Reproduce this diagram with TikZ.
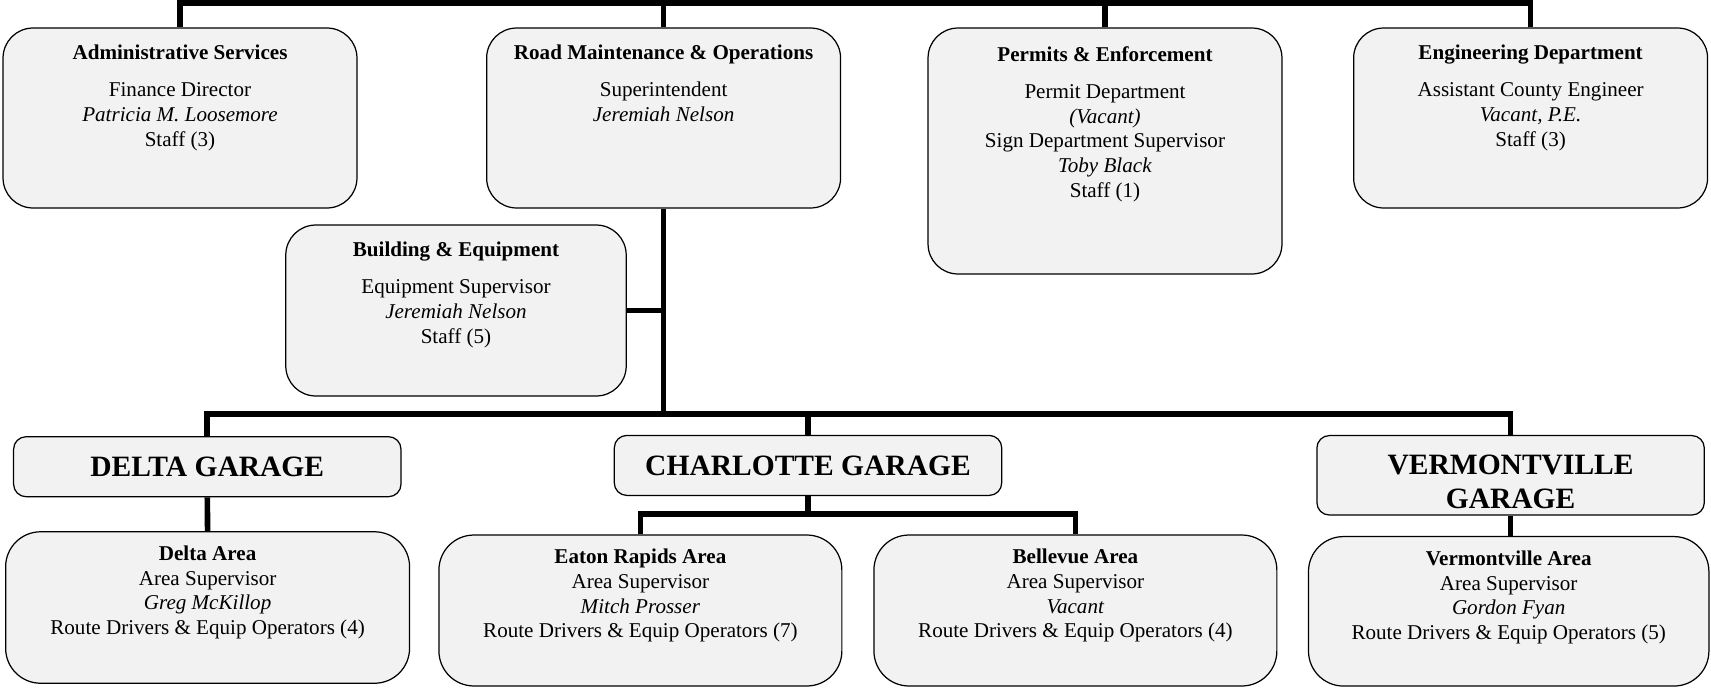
\documentclass[tikz,border=0pt]{standalone}
\usepackage{fontspec}
\setmainfont{Liberation Serif}
\usetikzlibrary{positioning}
\tikzset{
	unit/.style={draw, line width=0.7pt, fill=black!5, rounded corners=0.6cm, minimum width=7.08cm, minimum height=3.6cm},
	garage/.style={draw, line width=0.7pt, fill=black!5, rounded corners=0.25cm, minimum width=7.75cm, minimum height=1.2cm},
	gtxt/.style={align=center, inner sep=0pt, font=\fontsize{16.8}{19.6}\selectfont\bfseries},
	area/.style={draw, line width=0.7pt, fill=black!5, rounded corners=0.7cm, minimum width=8.06cm, minimum height=3.02cm},
	txt/.style={align=center, inner sep=0pt, font=\fontsize{12}{14}\selectfont},
	wire/.style={line width=3.2pt}
}

\begin{document}
\begin{tikzpicture}[x=0.02cm, y=-0.02cm]
			%%%%% START %%%%%
			\useasboundingbox (0,0) rectangle (1711,687);
			
			\coordinate (top) at (862,3.3);
			\coordinate (bus) at (663.6,414);
			\coordinate (sub) at (808,514);
			
			% departments
			\node[unit] (admin) at (180,118) {};
			\node[txt, below=0.34cm of admin.north] (admintxt) {\textbf{Administrative Services}\\[7.4pt] Finance Director\\ \textit{Patricia M. Loosemore}\\ Staff (3)};
			
			\node[unit] (road) at (663.6,118) {};
			\node[txt, below=0.34cm of road.north] (roadtxt) {\textbf{Road Maintenance \& Operations}\\[7.4pt] Superintendent\\ \textit{Jeremiah Nelson}};
			
			\node[unit, minimum height=4.92cm] (permits) at (1105,151) {};
			\node[txt, below=0.37cm of permits.north] (permitstxt) {\textbf{Permits \& Enforcement}\\[7.4pt] Permit Department\\ \textit{(Vacant)}\\ Sign Department Supervisor\\ \textit{Toby Black}\\ Staff (1)};
			
			\node[unit] (eng) at (1530.6,118) {};
			\node[txt, below=0.34cm of eng.north] (engtxt) {\textbf{Engineering Department}\\[7.4pt] Assistant County Engineer\\ \textit{Vacant, P.E.}\\ Staff (3)};
			
			\node[unit, minimum width=6.81cm, minimum height=3.42cm] (build) at (456,310.5) {};
			\node[txt, below=0.34cm of build.north] (buildtxt) {\textbf{Building \& Equipment}\\[7.4pt] Equipment Supervisor\\ \textit{Jeremiah Nelson}\\ Staff (5)};
			
			% garages
			\node[garage] (dgar) at (207.3,466.7) {};
			\node[gtxt] (dgartxt) at (dgar.center) {DELTA GARAGE};
			\node[garage] (cgar) at (808,465.4) {};
			\node[gtxt] (cgartxt) at (cgar.center) {CHARLOTTE GARAGE};
			\node[garage, minimum height=1.59cm] (vgar) at (1510.6,475.3) {};
			\node[gtxt] (vgartxt) at ([yshift=-0.13cm]vgar.center) {VERMONTVILLE\\GARAGE};
			
			% areas
			\node[area, minimum width=8.08cm, minimum height=3.03cm] (darea) at (207.6,607.5) {};
			\node[txt, below=0.29cm of darea.north] (dareatxt) {\textbf{Delta Area}\\ Area Supervisor\\ \textit{Greg McKillop}\\ Route Drivers \& Equip Operators (4)};
			
			\node[area] (eaton) at (640.4,610.5) {};
			\node[txt, below=0.29cm of eaton.north] (eatontxt) {\textbf{Eaton Rapids Area}\\ Area Supervisor\\ \textit{Mitch Prosser}\\ Route Drivers \& Equip Operators (7)};
			
			\node[area] (belle) at (1075.4,610.5) {};
			\node[txt, below=0.29cm of belle.north] (belletxt) {\textbf{Bellevue Area}\\ Area Supervisor\\ \textit{Vacant}\\ Route Drivers \& Equip Operators (4)};
			
			\node[area, minimum width=8.01cm, minimum height=2.99cm] (varea) at (1508.7,611.3) {};
			\node[txt, below=0.29cm of varea.north] (vareatxt) {\textbf{Vermontville Area}\\ Area Supervisor\\ \textit{Gordon Fyan}\\ Route Drivers \& Equip Operators (5)};
			
			% lines
			\draw[wire] (top) -- ++(0,-12);
			\draw[wire] (admin.north) -- (admin.north |- top) -- (eng.north |- top) -- (eng.north);
			\draw[wire] (road.north) -- (road.north |- top);
			\draw[wire] (permits.north) -- (permits.north |- top);
			
			\draw[wire] (road.south) -- (road.south |- bus);
			\draw[wire] (build.east) -- (build.east -| road.south);
			\draw[wire] (dgar.north) -- (dgar.north |- bus) -- (vgar.north |- bus) -- (vgar.north);
			\draw[wire] (cgar.north) -- (cgar.north |- bus);
			
			\draw[wire] (dgar.south) -- (darea.north);
			\draw[wire] (cgar.south) -- (cgar.south |- sub);
			\draw[wire] (eaton.north) -- (eaton.north |- sub) -- (belle.north |- sub) -- (belle.north);
			\draw[wire] (vgar.south) -- (vgar.south |- varea.north);
			
			%%%%% END %%%%%
\end{tikzpicture}
\end{document}
